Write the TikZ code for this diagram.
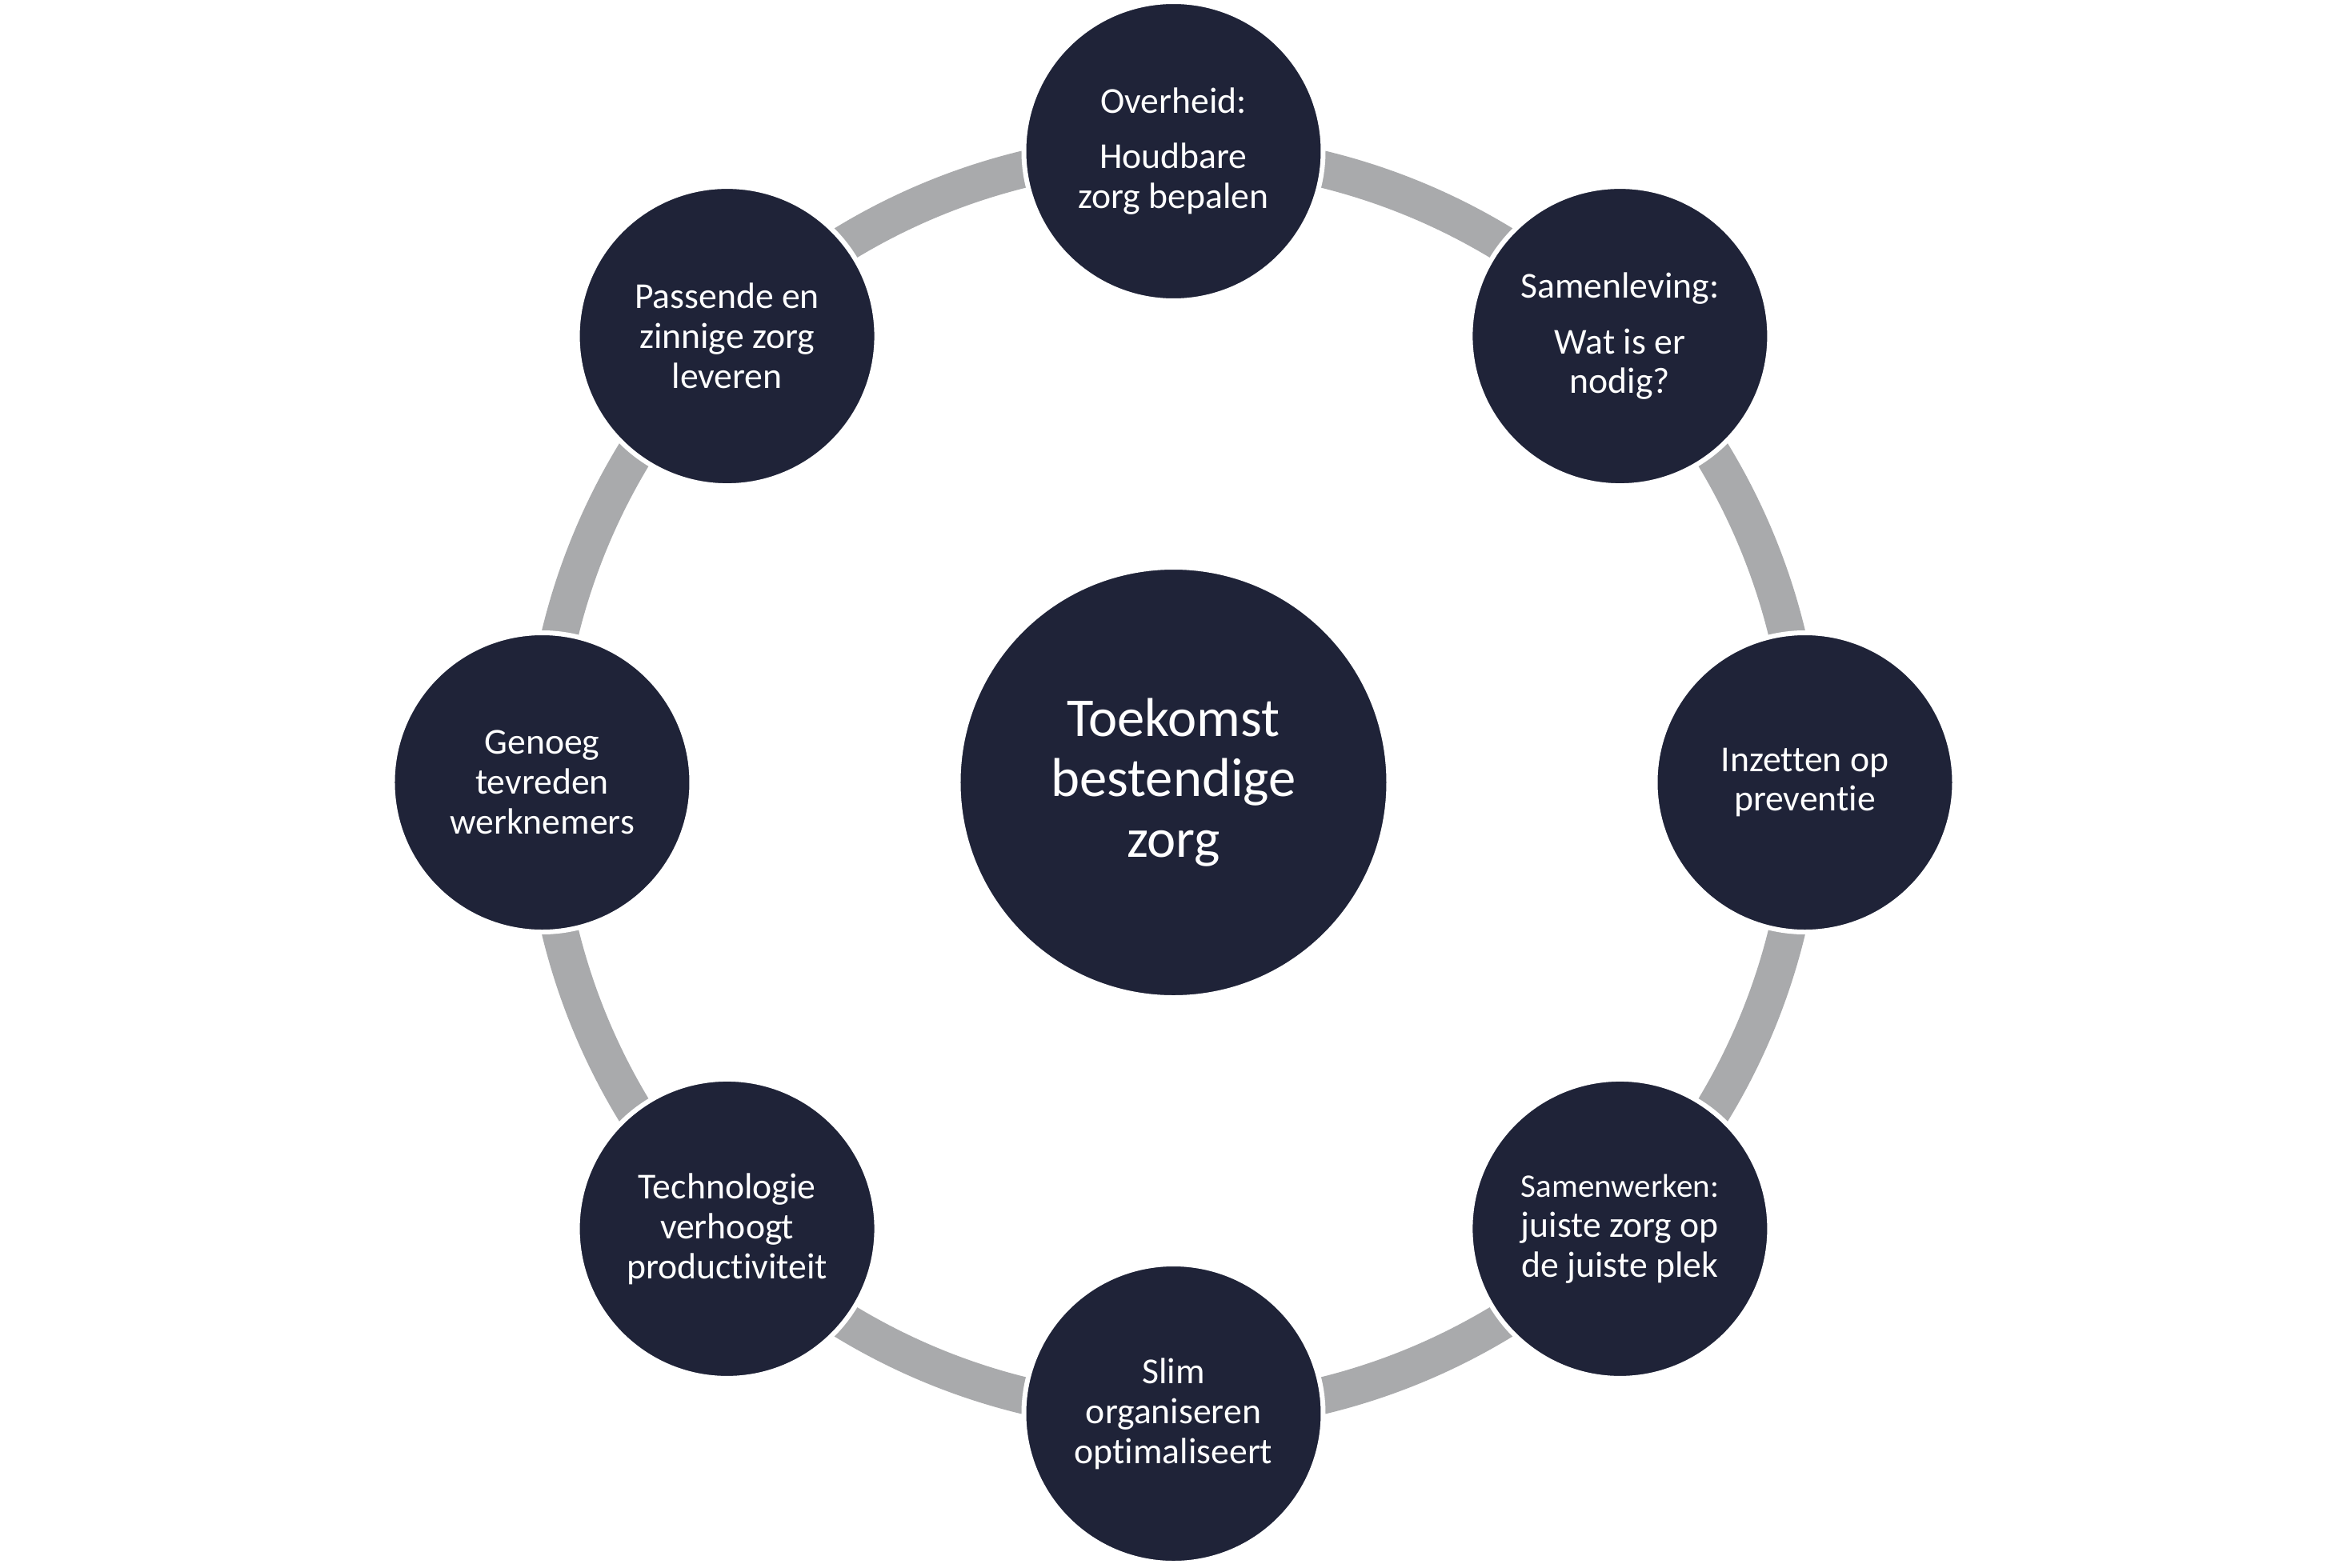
\documentclass[tikz,border=0pt]{standalone}
\usepackage{fontspec}
\setmainfont[Ligatures=NoCommon]{Carlito}
\usepackage{tikz}
\usetikzlibrary{shapes.geometric, positioning, backgrounds}
\usepackage{xcolor}
\definecolor{navy}{RGB}{31,35,56}
\definecolor{ringgray}{RGB}{169,170,172}
\tikzstyle{spoke} = [circle, minimum size=3.74cm, inner sep=0pt, align=center, text=white, fill=navy, draw=white, line width=0.06cm, font=\fontsize{13pt}{14.2pt}\selectfont]
\tikzstyle{hub} = [circle, minimum size=5.38cm, inner sep=0pt, align=center, text=white, fill=navy, draw=white, line width=0.06cm, font=\fontsize{19.5pt}{21.6pt}\selectfont]
\tikzstyle{ring} = [draw=ringgray, line width=0.46cm, bend right=22.5, looseness=0.885]

\begin{document}
\begin{tikzpicture}
    \useasboundingbox (-14.665,-9.81) rectangle (14.665,9.78);

    \node (toekomst) [hub] at (0,0) {Toekomst\\bestendige\\zorg};

    \node (overheid) [spoke] at (90:7.89) {Overheid:\\[0.2cm]Houdbare\\zorg bepalen};
    \node (samenleving) [spoke] at (45:7.89) {Samenleving:\\[0.2cm]Wat is er\\nodig?};
    \node (preventie) [spoke] at (0:7.89) {Inzetten op\\preventie};
    \node (samenwerken) [spoke] at (-45:7.89) {{\fontsize{11.7pt}{14.2pt}\selectfont Samenwerken:}\\juiste zorg op\\de juiste plek};
    \node (slim) [spoke] at (-90:7.89) {Slim\\organiseren\\optimaliseert};
    \node (technologie) [spoke] at (-135:7.89) {Technologie\\verhoogt\\productiviteit};
    \node (genoeg) [spoke] at (180:7.89) {Genoeg\\tevreden\\werknemers};
    \node (passende) [spoke] at (135:7.89) {Passende en\\zinnige zorg\\leveren};

    \begin{scope}[on background layer]
    \draw [ring] (overheid.center) to (passende.center);
    \draw [ring] (passende.center) to (genoeg.center);
    \draw [ring] (genoeg.center) to (technologie.center);
    \draw [ring] (technologie.center) to (slim.center);
    \draw [ring] (slim.center) to (samenwerken.center);
    \draw [ring] (samenwerken.center) to (preventie.center);
    \draw [ring] (preventie.center) to (samenleving.center);
    \draw [ring] (samenleving.center) to (overheid.center);
    \end{scope}
\end{tikzpicture}
\end{document}
